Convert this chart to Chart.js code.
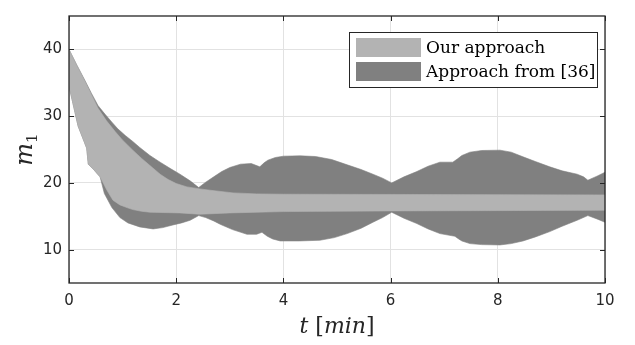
<!DOCTYPE html>
<html>
<head>
<meta charset="utf-8">
<script src="https://cdn.jsdelivr.net/npm/chart.js@4.4.1/dist/chart.umd.min.js"></script>
<style>
  html, body { margin: 0; padding: 0; background: #fff; }
  #wrap { width: 635px; height: 345px; }
</style>
</head>
<body>
<div id="wrap"><canvas id="chart" width="635" height="345"></canvas></div>
<script>
// edges of the two bands, [t in min, m1]
const lightUpper = [[0, 40], [0.15, 37.5], [0.3, 35.2], [0.42, 33.2], [0.54, 31.2], [0.7, 29.3], [0.86, 27.7], [1.0, 26.4], [1.19, 24.9], [1.35, 23.7], [1.51, 22.6], [1.7, 21.3], [1.85, 20.5], [2.0, 19.9], [2.2, 19.4], [2.44, 19.1], [2.63, 18.9], [3.06, 18.5], [3.5, 18.35], [4, 18.3], [10, 18.2]];
const lightLower = [[0, 34.5], [0.17, 28.5], [0.33, 25.2], [0.36, 22.8], [0.47, 21.9], [0.58, 20.9], [0.7, 19.0], [0.82, 17.4], [0.95, 16.7], [1.08, 16.3], [1.19, 16.0], [1.35, 15.75], [1.51, 15.6], [2.07, 15.5], [2.44, 15.3], [3.0, 15.5], [4, 15.7], [6, 15.8], [10, 15.9]];
const darkUpper = [[0, 40], [0.15, 37.6], [0.3, 35.3], [0.42, 33.4], [0.54, 31.6], [0.67, 30.3], [0.8, 29.1], [0.91, 28.1], [1.05, 27.1], [1.19, 26.2], [1.32, 25.3], [1.51, 24.1], [1.7, 23.1], [1.9, 22.1], [2.07, 21.3], [2.26, 20.3], [2.42, 19.3], [2.55, 20.1], [2.7, 20.9], [2.85, 21.7], [3.0, 22.3], [3.2, 22.8], [3.4, 22.9], [3.56, 22.4], [3.64, 23.0], [3.71, 23.4], [3.85, 23.8], [4.0, 24.0], [4.31, 24.05], [4.6, 23.95], [4.9, 23.5], [5.19, 22.7], [5.45, 22.0], [5.67, 21.3], [5.85, 20.7], [6.02, 20.0], [6.25, 20.9], [6.49, 21.7], [6.7, 22.5], [6.92, 23.1], [7.16, 23.1], [7.25, 23.6], [7.33, 24.1], [7.48, 24.6], [7.7, 24.85], [8.04, 24.9], [8.25, 24.6], [8.47, 23.9], [8.7, 23.2], [8.97, 22.4], [9.2, 21.8], [9.48, 21.3], [9.6, 20.9], [9.68, 20.4], [9.85, 21.0], [10, 21.6]];
const darkLower = [[0, 34.5], [0.17, 28.5], [0.33, 25.2], [0.36, 22.8], [0.47, 21.9], [0.58, 20.9], [0.66, 18.4], [0.8, 16.3], [0.95, 14.8], [1.1, 14.0], [1.32, 13.4], [1.57, 13.1], [1.75, 13.3], [1.94, 13.7], [2.1, 14.0], [2.26, 14.4], [2.42, 15.1], [2.55, 14.8], [2.7, 14.3], [2.82, 13.8], [3.05, 13.0], [3.32, 12.3], [3.5, 12.3], [3.6, 12.6], [3.7, 12.0], [3.8, 11.6], [3.94, 11.3], [4.3, 11.3], [4.68, 11.4], [4.95, 11.8], [5.19, 12.4], [5.45, 13.2], [5.67, 14.1], [5.85, 14.8], [6.02, 15.6], [6.25, 14.7], [6.49, 13.9], [6.7, 13.1], [6.92, 12.4], [7.2, 12.0], [7.27, 11.6], [7.33, 11.3], [7.48, 10.9], [7.7, 10.75], [8.04, 10.7], [8.25, 10.9], [8.47, 11.3], [8.7, 11.9], [8.97, 12.7], [9.2, 13.5], [9.48, 14.4], [9.68, 15.1], [9.85, 14.6], [10, 14.1]];

const seriesNames = ['Our approach', 'Approach from [36]'];
const xTicks = [0, 2, 4, 6, 8, 10];
const yTicks = [10, 20, 30, 40];

const LIGHT = '#b3b3b3';
const DARK = '#808080';
const INK = '#262626';

function pts(arr) {
  return arr.map(([x, y]) => ({ x, y }));
}

function edge(data, color, fill) {
  return {
    data: pts(data),
    fill: fill,
    backgroundColor: color,
    borderColor: color,
    borderWidth: 0.6,
    pointRadius: 0,
    tension: 0,
  };
}

// box, inward ticks, axis titles, legend
const decorPlugin = {
  id: 'decor',
  afterDatasetsDraw(chart) {
    const { ctx, chartArea: a, scales } = chart;
    ctx.save();
    ctx.strokeStyle = INK;
    ctx.lineWidth = 1;
    ctx.beginPath();
    xTicks.forEach((v) => {
      const px = Math.round(scales.x.getPixelForValue(v)) + 0.5;
      ctx.moveTo(px, a.bottom); ctx.lineTo(px, a.bottom - 5);
      ctx.moveTo(px, a.top); ctx.lineTo(px, a.top + 5);
    });
    yTicks.forEach((v) => {
      const py = Math.round(scales.y.getPixelForValue(v)) + 0.5;
      ctx.moveTo(a.left, py); ctx.lineTo(a.left + 5, py);
      ctx.moveTo(a.right, py); ctx.lineTo(a.right - 5, py);
    });
    ctx.stroke();
    ctx.lineWidth = 1.3;
    ctx.strokeRect(a.left, a.top, a.right - a.left, a.bottom - a.top);

    // legend
    const bx = a.right - 256, by = a.top + 16, bw = 248, bh = 55;
    ctx.fillStyle = '#fff';
    ctx.fillRect(bx, by, bw, bh);
    ctx.lineWidth = 1;
    ctx.strokeRect(bx + 0.5, by + 0.5, bw, bh);
    const colors = [LIGHT, DARK];
    ctx.font = '17px "DejaVu Serif"';
    ctx.textBaseline = 'alphabetic';
    ctx.textAlign = 'left';
    seriesNames.forEach((name, i) => {
      const rowY = by + 6 + i * 24;
      ctx.fillStyle = colors[i];
      ctx.fillRect(bx + 7, rowY, 65, 19);
      ctx.fillStyle = '#000';
      ctx.fillText(name, bx + 77, rowY + 15);
    });

    // x title: t [min]
    const parts = [
      ['t', 'italic 22px "DejaVu Serif"'],
      [' ', '22px "DejaVu Serif"'],
      ['[', '22px "DejaVu Serif"'],
      ['min', 'italic 22px "DejaVu Serif"'],
      [']', '22px "DejaVu Serif"'],
    ];
    let total = 0;
    parts.forEach(([s, f]) => { ctx.font = f; total += ctx.measureText(s).width; });
    let x = (a.left + a.right) / 2 - total / 2;
    ctx.fillStyle = INK;
    parts.forEach(([s, f]) => {
      ctx.font = f;
      ctx.fillText(s, x, 333);
      x += ctx.measureText(s).width;
    });

    // y title: m_1
    ctx.translate(32, (a.top + a.bottom) / 2);
    ctx.rotate(-Math.PI / 2);
    ctx.font = 'italic 24px "DejaVu Serif"';
    const mw = ctx.measureText('m').width;
    ctx.font = '15px "DejaVu Serif"';
    const sw = ctx.measureText('1').width;
    const sx = -(mw + sw) / 2;
    ctx.font = 'italic 24px "DejaVu Serif"';
    ctx.fillText('m', sx, 0);
    ctx.font = '15px "DejaVu Serif"';
    ctx.fillText('1', sx + mw, 5);
    ctx.restore();
  },
};

function init() {
  const tickFont = { family: '"DejaVu Sans"', size: 15 };
  new Chart(document.getElementById('chart'), {
    type: 'line',
    data: {
      datasets: [
        edge(lightUpper, LIGHT, '+1'),
        edge(lightLower, LIGHT, false),
        edge(darkUpper, DARK, '+1'),
        edge(darkLower, DARK, false),
      ],
    },
    options: {
      responsive: false,
      animation: false,
      layout: { padding: { left: 0, right: 30, top: 5, bottom: 0 } },
      plugins: {
        legend: { display: false },
        tooltip: { enabled: false },
      },
      scales: {
        x: {
          type: 'linear',
          min: 0,
          max: 10,
          afterBuildTicks: (s) => { s.ticks = xTicks.map((v) => ({ value: v })); },
          afterFit: (s) => { s.height = 62; },
          ticks: { font: tickFont, color: INK, padding: 9, autoSkip: false, maxRotation: 0 },
          grid: { color: '#e2e2e2', drawTicks: false },
          border: { display: false },
        },
        y: {
          min: 5,
          max: 45,
          afterBuildTicks: (s) => { s.ticks = yTicks.map((v) => ({ value: v })); },
          afterFit: (s) => { s.width = 69; },
          ticks: { font: tickFont, color: INK, padding: 7, autoSkip: false },
          grid: { color: '#e2e2e2', drawTicks: false },
          border: { display: false },
        },
      },
    },
    plugins: [decorPlugin],
  });
}

window.addEventListener('DOMContentLoaded', init);
</script>
</body>
</html>
